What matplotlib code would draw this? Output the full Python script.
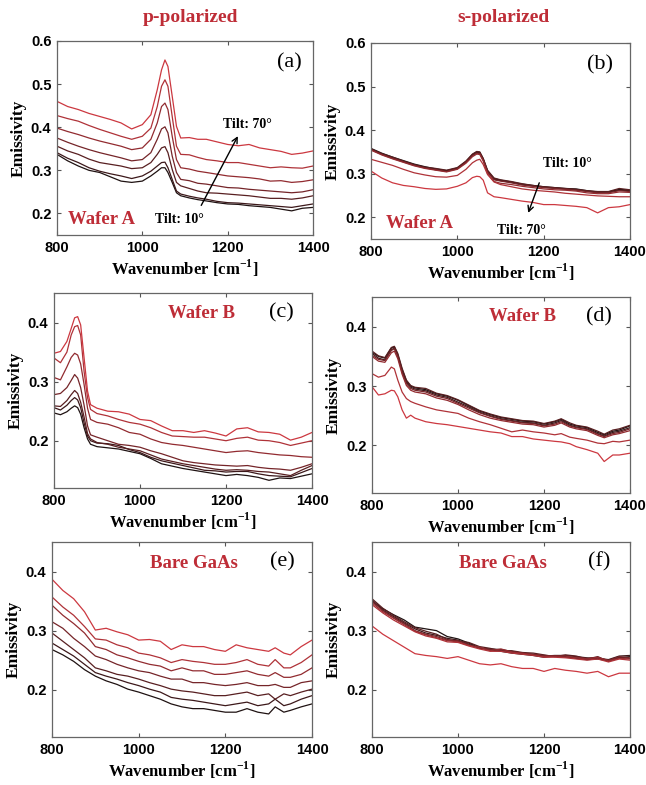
import numpy as np
import matplotlib
matplotlib.use("Agg")
import matplotlib.pyplot as plt

plt.rcParams['mathtext.fontset'] = 'custom'
plt.rcParams['mathtext.rm'] = 'Liberation Serif'
plt.rcParams['mathtext.bf'] = 'Liberation Serif:bold'

tilts = [10, 20, 30, 40, 50, 60, 70]

# (a) wafer A, p-polarized
xa = [800, 825, 850, 875, 900, 925, 950, 975, 1000, 1020, 1035, 1045, 1053, 1060, 1070,
      1080, 1090, 1110, 1130, 1150, 1175, 1200, 1225, 1250, 1275, 1300, 1325, 1350, 1375, 1400]
a10 = [.337, .322, .310, .300, .295, .285, .275, .272, .275, .287, .298, .306, .306, .295, .272,
       .248, .241, .236, .232, .229, .225, .222, .221, .218, .216, .214, .210, .206, .212, .214]
a20 = [.341, .328, .318, .306, .298, .292, .287, .281, .287, .298, .310, .318, .319, .306, .279,
       .252, .245, .240, .236, .233, .228, .225, .224, .222, .220, .218, .216, .214, .218, .222]
a30 = [.356, .345, .337, .326, .318, .314, .310, .304, .306, .318, .337, .352, .355, .341, .302,
       .272, .264, .258, .252, .248, .247, .245, .243, .241, .238, .235, .235, .233, .236, .241]
a40 = [.375, .365, .356, .348, .341, .335, .329, .322, .325, .341, .372, .396, .401, .387, .333,
       .295, .279, .276, .270, .268, .264, .260, .259, .256, .254, .252, .250, .248, .250, .255]
a50 = [.398, .390, .383, .375, .368, .362, .356, .348, .352, .372, .410, .448, .456, .441, .379,
       .325, .306, .303, .298, .295, .291, .287, .285, .283, .280, .275, .276, .272, .274, .278]
a60 = [.427, .420, .414, .404, .395, .387, .379, .372, .379, .398, .448, .495, .510, .495, .425,
       .356, .337, .336, .330, .325, .322, .318, .318, .314, .310, .306, .308, .306, .305, .310]
a70 = [.460, .448, .441, .432, .425, .418, .410, .396, .406, .429, .487, .533, .556, .541, .472,
       .402, .375, .376, .372, .372, .366, .360, .357, .360, .352, .348, .344, .337, .340, .345]

# (b) wafer A, s-polarized
xb = [800, 825, 850, 875, 900, 925, 950, 975, 1000, 1020, 1035, 1045, 1052, 1060, 1070,
      1085, 1100, 1125, 1150, 1175, 1200, 1225, 1250, 1275, 1300, 1325, 1350, 1375, 1400]
b10 = [.358, .347, .338, .330, .322, .316, .311, .307, .313, .328, .344, .350, .349, .334, .306,
       .289, .285, .281, .276, .273, .270, .268, .266, .265, .261, .258, .258, .264, .262]
b20 = [.356, .345, .336, .328, .320, .314, .309, .306, .312, .327, .343, .349, .348, .333, .305,
       .287, .284, .280, .275, .272, .269, .267, .265, .263, .260, .257, .258, .262, .261]
b30 = [.357, .346, .338, .329, .321, .315, .312, .308, .314, .329, .345, .351, .350, .335, .308,
       .290, .286, .282, .277, .273, .270, .268, .266, .264, .261, .259, .259, .266, .263]
b40 = [.355, .344, .335, .327, .319, .313, .309, .305, .311, .326, .341, .347, .346, .331, .304,
       .286, .283, .279, .274, .271, .268, .266, .264, .262, .259, .256, .256, .261, .259]
b50 = [.354, .343, .334, .326, .318, .312, .308, .304, .310, .324, .339, .345, .344, .329, .300,
       .282, .278, .275, .271, .268, .265, .263, .262, .260, .256, .254, .254, .258, .257]
b60 = [.333, .326, .319, .310, .302, .297, .293, .292, .296, .310, .325, .331, .333, .321, .298,
       .281, .275, .270, .265, .262, .260, .258, .255, .253, .251, .249, .248, .247, .247]
b70 = [.306, .290, .279, .273, .270, .266, .264, .265, .271, .279, .291, .294, .293, .285, .256,
       .247, .245, .241, .237, .234, .229, .229, .227, .225, .222, .210, .222, .224, .229]

# (c) wafer B, p-polarized
xc = [800, 815, 830, 840, 848, 855, 862, 870, 878, 885, 900, 925, 950, 975, 1000, 1025,
      1050, 1075, 1100, 1125, 1150, 1175, 1200, 1225, 1250, 1275, 1300, 1325, 1350, 1375, 1400]
c10 = [.247, .244, .249, .255, .259, .256, .245, .222, .203, .194, .190, .188, .186, .182, .178, .170,
       .161, .157, .153, .150, .147, .144, .141, .143, .141, .138, .133, .137, .136, .140, .144]
c20 = [.256, .252, .260, .268, .273, .269, .256, .230, .208, .200, .196, .195, .192, .185, .180, .172,
       .166, .162, .158, .154, .150, .149, .147, .148, .148, .144, .141, .140, .139, .146, .153]
c30 = [.259, .258, .268, .278, .285, .280, .265, .240, .212, .203, .197, .194, .189, .186, .183, .176,
       .169, .165, .161, .158, .155, .152, .150, .151, .150, .148, .147, .144, .141, .150, .158]
c40 = [.278, .280, .290, .302, .312, .306, .290, .260, .225, .210, .206, .200, .194, .192, .189, .183,
       .178, .172, .166, .163, .161, .159, .158, .157, .158, .155, .153, .152, .150, .155, .161]
c50 = [.307, .303, .325, .341, .348, .345, .330, .295, .255, .236, .231, .228, .222, .214, .211, .203,
       .197, .194, .192, .189, .186, .183, .180, .182, .183, .180, .178, .176, .175, .173, .172]
c60 = [.340, .332, .350, .379, .393, .395, .379, .317, .273, .253, .246, .242, .236, .231, .228, .222,
       .214, .208, .207, .206, .206, .203, .200, .204, .206, .201, .200, .197, .192, .196, .200]
c70 = [.348, .351, .368, .390, .408, .410, .396, .340, .284, .261, .255, .250, .249, .245, .236, .234,
       .225, .217, .217, .214, .217, .213, .208, .220, .222, .215, .214, .211, .201, .206, .214]

# (d) wafer B, s-polarized
xd = [800, 815, 830, 845, 852, 860, 870, 880, 890, 900, 925, 950, 975, 1000, 1025, 1050,
      1075, 1100, 1125, 1150, 1175, 1200, 1225, 1240, 1260, 1275, 1300, 1325, 1340, 1360, 1375, 1400]
d10 = [.357, .350, .347, .364, .366, .353, .328, .309, .300, .297, .294, .287, .283, .276, .267, .258,
       .252, .247, .244, .241, .240, .236, .240, .244, .236, .233, .230, .222, .218, .224, .226, .233]
d20 = [.355, .347, .344, .361, .364, .351, .325, .306, .298, .295, .292, .285, .281, .273, .265, .256,
       .250, .245, .242, .239, .238, .234, .238, .242, .234, .231, .228, .220, .216, .222, .224, .230]
d30 = [.359, .351, .348, .365, .367, .355, .330, .310, .301, .298, .296, .288, .284, .277, .268, .259,
       .253, .248, .245, .242, .241, .237, .241, .245, .238, .234, .231, .224, .219, .226, .228, .234]
d40 = [.352, .345, .343, .360, .363, .350, .323, .304, .296, .293, .290, .283, .279, .271, .263, .255,
       .249, .244, .241, .238, .237, .233, .236, .240, .233, .230, .227, .219, .215, .220, .222, .228]
d50 = [.350, .342, .340, .356, .359, .346, .320, .301, .293, .290, .287, .280, .276, .269, .260, .252,
       .246, .242, .239, .236, .235, .231, .234, .238, .231, .228, .225, .217, .213, .218, .220, .225]
d60 = [.321, .315, .318, .332, .329, .310, .290, .279, .274, .271, .265, .260, .257, .254, .246, .240,
       .235, .229, .223, .226, .223, .221, .218, .220, .214, .212, .209, .204, .203, .207, .206, .209]
d70 = [.299, .285, .287, .293, .292, .282, .260, .246, .251, .246, .240, .237, .235, .232, .229, .226,
       .223, .221, .215, .215, .211, .209, .207, .206, .203, .198, .193, .187, .173, .184, .184, .187]

# (e) bare GaAs, p-polarized
xe = [800, 825, 850, 875, 900, 925, 950, 975, 1000, 1025, 1050, 1075, 1100,
      1125, 1150, 1175, 1200, 1225, 1250, 1275, 1300, 1315, 1335, 1350, 1375, 1400]
e10 = [.268, .259, .248, .234, .223, .215, .209, .201, .196, .190, .184, .176, .171,
       .168, .168, .165, .162, .162, .168, .162, .159, .171, .162, .165, .171, .176]
e20 = [.279, .268, .257, .243, .229, .223, .218, .212, .207, .201, .196, .187, .184,
       .182, .179, .176, .173, .176, .179, .173, .176, .184, .173, .176, .184, .190]
e30 = [.296, .282, .268, .254, .237, .232, .226, .223, .218, .212, .207, .201, .198,
       .196, .193, .190, .190, .193, .196, .190, .193, .184, .193, .190, .196, .201]
e40 = [.315, .304, .287, .273, .257, .251, .243, .237, .232, .229, .223, .218, .218,
       .212, .212, .209, .207, .209, .212, .207, .207, .209, .204, .204, .212, .215]
e50 = [.343, .326, .312, .296, .273, .268, .259, .254, .248, .243, .240, .232, .237,
       .232, .232, .226, .226, .229, .232, .226, .223, .229, .221, .221, .226, .237]
e60 = [.357, .340, .326, .307, .286, .284, .276, .271, .262, .259, .254, .246, .251,
       .248, .246, .243, .243, .246, .251, .243, .240, .251, .237, .237, .246, .259]
e70 = [.387, .368, .354, .332, .301, .304, .298, .293, .284, .285, .282, .268, .276,
       .273, .273, .268, .265, .276, .271, .268, .265, .271, .262, .259, .273, .284]

# (f) bare GaAs, s-polarized
xf = [800, 825, 850, 875, 900, 925, 950, 975, 1000, 1025, 1050, 1075, 1100,
      1125, 1150, 1175, 1200, 1225, 1250, 1275, 1300, 1325, 1350, 1375, 1400]
f10 = [.349, .337, .327, .318, .306, .303, .300, .290, .286, .279, .271, .267, .265,
       .262, .260, .258, .255, .257, .256, .253, .251, .252, .249, .254, .256]
f20 = [.352, .335, .324, .313, .303, .296, .292, .287, .284, .277, .270, .269, .268,
       .265, .262, .260, .257, .258, .258, .256, .254, .253, .251, .257, .258]
f30 = [.354, .338, .326, .315, .305, .299, .294, .285, .282, .280, .273, .270, .266,
       .266, .263, .262, .259, .256, .259, .257, .252, .256, .248, .255, .253]
f40 = [.350, .334, .322, .312, .300, .294, .290, .284, .283, .276, .271, .268, .267,
       .263, .261, .260, .258, .257, .255, .255, .253, .254, .250, .256, .254]
f50 = [.347, .332, .321, .310, .299, .293, .288, .283, .281, .275, .272, .266, .269,
       .264, .262, .259, .256, .257, .257, .254, .252, .255, .249, .253, .252]
f60 = [.344, .330, .318, .308, .298, .291, .287, .281, .280, .274, .269, .265, .265,
       .262, .260, .258, .255, .255, .254, .252, .250, .252, .247, .252, .250]
f70 = [.308, .294, .283, .272, .261, .258, .256, .253, .256, .250, .244, .242, .244,
       .239, .236, .236, .231, .236, .233, .231, .228, .231, .222, .228, .228]

panels = [
    (xa, [a10, a20, a30, a40, a50, a60, a70]),
    (xb, [b10, b20, b30, b40, b50, b60, b70]),
    (xc, [c10, c20, c30, c40, c50, c60, c70]),
    (xd, [d10, d20, d30, d40, d50, d60, d70]),
    (xe, [e10, e20, e30, e40, e50, e60, e70]),
    (xf, [f10, f20, f30, f40, f50, f60, f70]),
]
letters = ['(a)', '(b)', '(c)', '(d)', '(e)', '(f)']
samples = ['Wafer A', 'Wafer A', 'Wafer B', 'Wafer B', 'Bare GaAs', 'Bare GaAs']
sample_pos = [(826, 0.186, 'left'), (835, 0.185, 'left'), (1220, 0.416, 'right'),
              (1228, 0.417, 'right'), (1230, 0.414, 'right'), (1207, 0.414, 'right')]
letter_x = [1315, 1300, 1301, 1298, 1304, 1302]

# axes boxes in figure pixels: left, top, right, bottom
boxes = [(57, 41, 313, 235), (371, 43, 630, 239),
         (54, 293, 312, 488), (372, 297, 630, 493),
         (52, 542, 312, 737), (372, 542, 630, 737)]

W, H = 646, 785
red = '#be2d37'
c_dark = np.array([0.12, 0.07, 0.07])
c_red = np.array([0.80, 0.22, 0.25])
colors = [c_dark + (c_red - c_dark) * k / 6 for k in range(7)]

serif = 'Liberation Serif'
fig = plt.figure(figsize=(W / 100, H / 100), dpi=100)

for i, (x, ys) in enumerate(panels):
    l, t, r, b = boxes[i]
    ax = fig.add_axes([l / W, 1 - b / H, (r - l) / W, (b - t) / H])
    for k, y in enumerate(ys):
        ax.plot(x, y, color=colors[k], lw=0.9)
    ax.set_xlim(800, 1400)
    ax.set_xticks([800, 1000, 1200, 1400])
    if i < 2:
        ax.set_ylim(0.15, 0.6)
        ax.set_yticks([0.2, 0.3, 0.4, 0.5, 0.6])
    else:
        ax.set_ylim(0.12, 0.45)
        ax.set_yticks([0.2, 0.3, 0.4])
    ax.tick_params(direction='in', top=True, right=True, length=3, width=0.8,
                   labelsize=10.5, pad=4, colors='#555555', labelcolor='black')
    for lab in ax.get_xticklabels() + ax.get_yticklabels():
        lab.set_fontfamily('Liberation Sans')
        lab.set_fontweight('bold')
    for s in ax.spines.values():
        s.set_color('#666666')
        s.set_linewidth(0.9)
    ax.set_xlabel(r'Wavenumber [cm$^{\mathbf{-1}}$]', fontfamily=serif,
                  fontweight='bold', fontsize=12, labelpad=2)
    ax.set_ylabel('Emissivity', fontfamily=serif, fontweight='bold',
                  fontsize=12.5, labelpad=3)
    sx, sy, ha = sample_pos[i]
    ax.text(sx, sy, samples[i], color=red, fontfamily=serif, fontweight='bold',
            fontsize=13.5, ha=ha, va='center')
    ytop = 0.549 if i < 2 else 0.416
    ax.text(letter_x[i], ytop, letters[i], fontfamily=serif, fontsize=16,
            ha='left', va='center')

    if i == 0:
        ax.annotate('', xy=(1227, 0.385), xytext=(1135, 0.213),
                    arrowprops=dict(arrowstyle='->', color='black', lw=1.0))
        ax.text(1188, 0.407, 'Tilt: 70°', fontfamily=serif, fontweight='bold',
                fontsize=10, va='center')
        ax.text(1030, 0.186, 'Tilt: 10°', fontfamily=serif, fontweight='bold',
                fontsize=10, va='center')
    if i == 1:
        ax.annotate('', xy=(1162, 0.204), xytext=(1192, 0.285),
                    arrowprops=dict(arrowstyle='->', color='black', lw=1.0))
        ax.text(1198, 0.324, 'Tilt: 10°', fontfamily=serif, fontweight='bold',
                fontsize=10, va='center')
        ax.text(1091, 0.169, 'Tilt: 70°', fontfamily=serif, fontweight='bold',
                fontsize=10, va='center')

fig.text(190 / W, 1 - 17 / H, 'p-polarized', color=red, fontfamily=serif,
         fontweight='bold', fontsize=14, ha='center', va='center')
fig.text(504 / W, 1 - 18 / H, 's-polarized', color=red, fontfamily=serif,
         fontweight='bold', fontsize=14, ha='center', va='center')

fig.savefig('out.png', dpi=100)
